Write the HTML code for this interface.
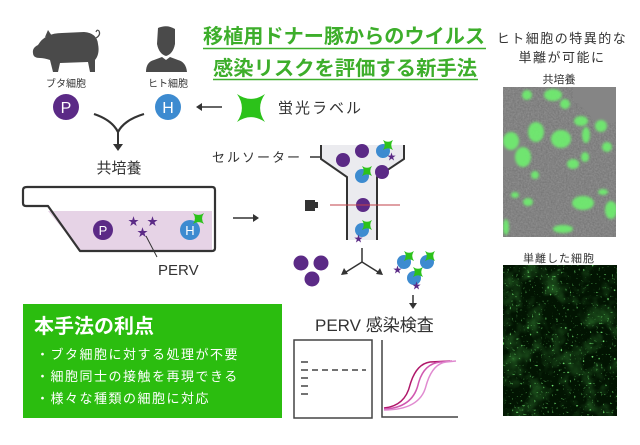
<!DOCTYPE html>
<html><head><meta charset="utf-8"><style>
html,body{margin:0;padding:0;background:#fff;}
svg{display:block;}
text{font-family:"Liberation Sans","Noto Sans CJK JP",sans-serif;}
</style></head><body>
<svg width="640" height="445" viewBox="0 0 640 445" xmlns="http://www.w3.org/2000/svg">
<defs>
<symbol id="gstar" viewBox="-10 -10 20 20"><path d="M-10,-10 Q0,-3 10,-10 Q3,0 10,10 Q0,3 -10,10 Q-3,0 -10,-10Z" fill="#2cc21a"/></symbol>
<filter id="noise" x="0" y="0" width="100%" height="100%"><feTurbulence type="fractalNoise" baseFrequency="0.6" numOctaves="2" seed="3"/><feColorMatrix type="matrix" values="0 0 0 0 0.3 0 0 0 0 0.3 0 0 0 0 0.3 1.2 0 0 0 -0.2"/></filter>
<filter id="blur1"><feGaussianBlur stdDeviation="1.2"/></filter>
<filter id="gnoise" x="0" y="0" width="100%" height="100%"><feTurbulence type="fractalNoise" baseFrequency="0.05" numOctaves="3" seed="8"/><feColorMatrix type="matrix" values="0 0 0 0 0.05 0 0 0 0 0.35 0 0 0 0 0.05 0 1.3 0 0 -0.6"/></filter>
<filter id="gspeck" x="0" y="0" width="100%" height="100%"><feTurbulence type="fractalNoise" baseFrequency="0.45" numOctaves="1" seed="5"/><feColorMatrix type="matrix" values="0 0 0 0 0.2 0 0 0 0 0.95 0 0 0 0 0.2 0 6 0 0 -3.9"/></filter>
</defs>

<!-- Title -->
<g fill="#3dae2b" font-weight="bold" font-size="20">
<text x="203" y="43" textLength="282" lengthAdjust="spacingAndGlyphs">移植用ドナー豚からのウイルス</text>
<text x="213" y="75" textLength="264" lengthAdjust="spacingAndGlyphs">感染リスクを評価する新手法</text>
</g>
<line x1="203" y1="48.5" x2="486" y2="48.5" stroke="#3dae2b" stroke-width="1.5"/>
<line x1="213" y1="79.5" x2="478" y2="79.5" stroke="#3dae2b" stroke-width="1.5"/>

<!-- pig -->
<g fill="#4a4a4a">
<path d="M38,45 Q45,33 62,33 L84,32 Q97,33 98,44 Q100,54 95,60 L95,72 L90,72 L88,62 L60,63 L58,72 L53,72 L50,60 Q44,58 40,58 Q33,58 33,53 Q32,48 38,45Z"/>
<path d="M45,37 L48,30 L52,36Z"/>
</g>
<path d="M96,38 Q101,35 99,31 Q97,29 96,32" fill="none" stroke="#4a4a4a" stroke-width="1.2"/>
<!-- person -->
<g fill="#4a4a4a">
<path d="M158,28 Q167,24 175,29 L175,44 Q173,54 166,56 Q159,54 157,44Z"/>
<path d="M146,72 Q146,62 154,60 L162,57 L166,60 L170,57 L178,60 Q186,62 187,72Z"/>
</g>
<g font-size="10" fill="#333">
<text x="66" y="87" text-anchor="middle">ブタ細胞</text>
<text x="168" y="87" text-anchor="middle">ヒト細胞</text>
</g>
<circle cx="66" cy="107" r="13" fill="#5b2a86"/>
<text x="66" y="113" text-anchor="middle" fill="#fff" font-size="16">P</text>
<circle cx="168" cy="107" r="13" fill="#3d8bd0"/>
<text x="168" y="113" text-anchor="middle" fill="#fff" font-size="16">H</text>
<line x1="222" y1="107" x2="200" y2="107" stroke="#333" stroke-width="1.5"/>
<path d="M196,107 L202,103 L202,111Z" fill="#333"/>
<use href="#gstar" x="237" y="94" width="28" height="28"/>
<text x="278" y="113" font-size="15" fill="#333" letter-spacing="2">蛍光ラベル</text>
<path d="M94,114 Q112,120 118,132 Q124,120 144,114" fill="none" stroke="#333" stroke-width="2.2"/>
<line x1="118" y1="130" x2="118" y2="145" stroke="#333" stroke-width="2"/>
<path d="M113,144 L123,144 L118,151Z" fill="#333"/>
<text x="119" y="173" text-anchor="middle" font-size="15" fill="#333">共培養</text>

<!-- flask -->
<path d="M48,211 L212,211 L212,250 L80,250Z" fill="#e6d3e6"/>
<path d="M27,187 L212,187 Q215,187 215,190 L215,248 Q215,251 212,251 L80,251 L48,206 L26,206 Q23,206 23,203 L23,190 Q23,187 27,187Z" fill="none" stroke="#333" stroke-width="2.2" stroke-linejoin="round"/>
<circle cx="103" cy="230" r="10" fill="#5b2a86"/>
<text x="103" y="235" text-anchor="middle" fill="#fff" font-size="13">P</text>
<g fill="#5b2a86" font-size="11">
<text x="128" y="225">★</text><text x="147" y="225">★</text><text x="137" y="236">★</text>
</g>
<circle cx="190" cy="230" r="10" fill="#3d8bd0"/>
<text x="190" y="235" text-anchor="middle" fill="#fff" font-size="13">H</text>
<use href="#gstar" x="193" y="213" width="11" height="11"/>
<line x1="146" y1="236" x2="157" y2="257" stroke="#333" stroke-width="1"/>
<text x="158" y="275" font-size="15" fill="#333">PERV</text>
<line x1="233" y1="218" x2="254" y2="218" stroke="#333" stroke-width="1.5"/>
<path d="M259,218 L253,214 L253,222Z" fill="#333"/>

<!-- green box -->
<rect x="23" y="304" width="259" height="114" fill="#2bbd0f"/>
<text x="34" y="333" font-size="20" fill="#fff" font-weight="bold">本手法の利点</text>
<g font-size="13" fill="#fff" letter-spacing="1.5">
<text x="36" y="359">・ブタ細胞に対する処理が不要</text>
<text x="36" y="381">・細胞同士の接触を再現できる</text>
<text x="36" y="403">・様々な種類の細胞に対応</text>
</g>

<!-- cell sorter -->
<text x="212" y="162" font-size="13" fill="#333" letter-spacing="2">セルソーター</text>
<line x1="310" y1="157" x2="320" y2="157" stroke="#333" stroke-width="1.5"/>
<path d="M321,145 L404,145 L404,159 L377,177 L377,240 L347,240 L347,177 L321,159Z" fill="#ebebef"/>
<path d="M321,145 L321,159 L347,177 L347,240 M404,145 L404,159 L377,177 L377,240" fill="none" stroke="#333" stroke-width="2"/>
<g fill="#5b2a86">
<circle cx="343" cy="160" r="7"/><circle cx="362" cy="151" r="7"/><circle cx="382" cy="172" r="7"/><circle cx="363" cy="205" r="7"/>
</g>
<g fill="#3d8bd0"><circle cx="383" cy="151" r="7"/><circle cx="362" cy="176" r="7"/><circle cx="362" cy="230" r="7"/></g>
<use href="#gstar" x="383" y="140" width="10" height="10"/><use href="#gstar" x="362" y="166" width="10" height="10"/><use href="#gstar" x="362" y="220" width="10" height="10"/>
<g fill="#5b2a86" font-size="9"><text x="387" y="160">★</text><text x="354" y="242">★</text></g>
<rect x="305" y="200" width="10" height="11" fill="#333"/><rect x="314" y="202" width="4" height="6" fill="#333"/>
<line x1="330" y1="205" x2="400" y2="205" stroke="#c0404a" stroke-width="1"/>
<line x1="362" y1="248" x2="362" y2="262" stroke="#333" stroke-width="1.5"/>
<path d="M362,262 L346,272 M362,262 L378,272" stroke="#333" stroke-width="1.5" fill="none"/>
<path d="M341,275 L344,268 L348,274Z M383,275 L380,268 L376,274Z" fill="#333"/>
<g fill="#5b2a86"><circle cx="301" cy="263" r="7.5"/><circle cx="321" cy="263" r="7.5"/><circle cx="312" cy="279" r="7.5"/></g>
<g fill="#3d8bd0"><circle cx="404" cy="262" r="7"/><circle cx="427" cy="262" r="7"/><circle cx="414" cy="278" r="7"/></g>
<use href="#gstar" x="404" y="251" width="10" height="10"/><use href="#gstar" x="425" y="251" width="10" height="10"/><use href="#gstar" x="413" y="267" width="10" height="10"/>
<g fill="#5b2a86" font-size="9"><text x="393" y="273">★</text><text x="412" y="289">★</text></g>
<line x1="413" y1="295" x2="413" y2="304" stroke="#333" stroke-width="1.5"/>
<path d="M409,303 L417,303 L413,309Z" fill="#333"/>
<text x="315" y="331" font-size="17" fill="#333">PERV 感染検査</text>
<rect x="294" y="340" width="78" height="78" fill="none" stroke="#444" stroke-width="1.5"/>
<g stroke="#444" stroke-width="1.5">
<line x1="301" y1="362" x2="308" y2="362"/><line x1="301" y1="370" x2="308" y2="370"/><line x1="301" y1="378" x2="308" y2="378"/><line x1="301" y1="386" x2="308" y2="386"/><line x1="301" y1="394" x2="308" y2="394"/>
<line x1="312" y1="370" x2="366" y2="370" stroke-dasharray="6,4"/>
</g>
<path d="M382,340 L382,417 L458,417" fill="none" stroke="#444" stroke-width="1.5"/>
<g fill="none" stroke-width="1.5">
<path d="M384,408 Q405,406 410,385 Q416,364 430,362 L450,361" stroke="#b0176a"/>
<path d="M384,409 Q412,408 418,385 Q423,364 440,362 L452,361" stroke="#d058b0"/>
<path d="M384,410 Q420,410 426,386 Q432,364 446,362 L456,361" stroke="#e08ad0"/>
</g>

<!-- right column -->
<g font-size="13" fill="#333" text-anchor="middle" letter-spacing="1.5">
<text x="562" y="43">ヒト細胞の特異的な</text>
<text x="562" y="62">単離が可能に</text>
</g>
<text x="559" y="83" font-size="11" fill="#333" text-anchor="middle">共培養</text>
<text x="559" y="262" font-size="11" fill="#333" text-anchor="middle" letter-spacing="1">単離した細胞</text>
<svg x="503" y="87" width="113" height="150">
<rect width="113" height="150" fill="#767676"/>
<rect width="113" height="150" filter="url(#noise)"/>
<path d="M70,0 L113,0 L113,35 Q95,40 88,30 Q80,20 70,12Z" fill="#858585"/>
<path d="M0,50 Q15,45 22,60 Q25,75 10,80 L0,80Z" fill="#848484"/>
<g fill="#6ef06e" opacity="0.9" filter="url(#blur1)">
<ellipse cx="58" cy="52" rx="10" ry="9"/><ellipse cx="50" cy="8" rx="9" ry="6"/><ellipse cx="24" cy="8" rx="5" ry="5"/>
<ellipse cx="62" cy="17" rx="5" ry="5"/><ellipse cx="78" cy="34" rx="7" ry="5"/><ellipse cx="98" cy="39" rx="6" ry="6"/>
<ellipse cx="8" cy="54" rx="8" ry="9"/><ellipse cx="20" cy="70" rx="8" ry="10"/><ellipse cx="33" cy="45" rx="8" ry="10"/>
<ellipse cx="83" cy="48" rx="4" ry="8"/><ellipse cx="70" cy="77" rx="6" ry="5"/><ellipse cx="82" cy="70" rx="4" ry="5"/>
<ellipse cx="104" cy="60" rx="5" ry="5"/><ellipse cx="32" cy="88" rx="4" ry="4"/><ellipse cx="108" cy="123" rx="6" ry="9"/>
<ellipse cx="80" cy="116" rx="11" ry="7"/><ellipse cx="12" cy="108" rx="4" ry="3"/><ellipse cx="25" cy="115" rx="5" ry="4"/>
<ellipse cx="100" cy="105" rx="5" ry="3"/><ellipse cx="3" cy="140" rx="3" ry="8"/><ellipse cx="60" cy="142" rx="10" ry="4"/>
</g>
</svg>
<svg x="503" y="265" width="114" height="151">
<rect width="114" height="151" fill="#021402"/>
<rect width="114" height="151" filter="url(#gnoise)"/>
<rect width="114" height="151" filter="url(#gspeck)"/>
</svg>
</svg>
</body></html>
